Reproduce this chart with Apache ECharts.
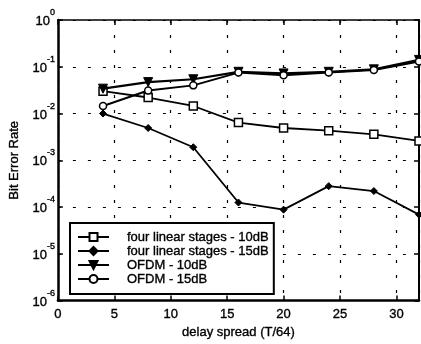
<!DOCTYPE html>
<html>
<head>
<meta charset="utf-8">
<script src="https://cdn.jsdelivr.net/npm/echarts@6/dist/echarts.min.js"></script>
<style>
  html, body { margin: 0; padding: 0; background: #fff; }
  #chart { width: 421px; height: 344px; }
</style>
</head>
<body>
<div id="chart"></div>
<script>
// delay spread in units of T/64
const delaySpread = [4, 8, 12, 16, 20, 24, 28, 32];

// bit error rates
const linear10dB = [0.030, 0.022, 0.0145, 0.0064, 0.0049, 0.0043, 0.0036, 0.0026];
const linear15dB = [0.0100, 0.0049, 0.0019, 0.000125, 0.000088, 0.00028, 0.00022, 0.000069];
const ofdm10dB = [0.034, 0.047, 0.054, 0.078, 0.072, 0.078, 0.088, 0.14];
const ofdm15dB = [0.0145, 0.031, 0.040, 0.075, 0.066, 0.075, 0.085, 0.13];

const seriesNames = [
  "four linear stages - 10dB",
  "four linear stages - 15dB",
  "OFDM - 10dB",
  "OFDM - 15dB",
];

const FONT = "'Liberation Sans', Arial, sans-serif";
const INK = "#000";

// scanned print looks heavier than the plain font, thicken strokes a bit
const heavy = { textBorderColor: INK, textBorderWidth: 0.35 };

const pairs = (ys) => delaySpread.map((x, i) => [x, ys[i]]);

const dotted = { color: INK, width: 1.2, type: [3, 12] };

const chart = echarts.init(document.getElementById("chart"), null, { renderer: "canvas" });

chart.setOption({
  animation: false,
  backgroundColor: "#fff",
  textStyle: { fontFamily: FONT, color: INK },
  grid: { left: 52, top: 20, right: 2, bottom: 37 },
  legend: {
    orient: "vertical",
    left: 70,
    top: 223,
    padding: [7, 5, 8, 7],
    itemWidth: 31,
    itemHeight: 10,
    itemGap: 0,
    borderColor: INK,
    borderWidth: 2,
    borderRadius: 0,
    backgroundColor: "#fff",
    textStyle: { fontFamily: FONT, fontSize: 13, color: INK, lineHeight: 14, padding: [0, 0, 0, 13], ...heavy },
    data: seriesNames,
  },
  xAxis: [
    {
      type: "value",
      min: 0,
      max: 32,
      interval: 5,
      name: "delay spread (T/64)",
      nameLocation: "middle",
      nameGap: 22,
      nameTextStyle: { fontFamily: FONT, fontSize: 13, color: INK, ...heavy },
      axisLine: { show: true, onZero: false, lineStyle: { color: INK, width: 2.5 } },
      axisTick: { show: true, inside: true, length: 5, lineStyle: { color: INK, width: 1.5 } },
      axisLabel: {
        margin: 7, fontFamily: FONT, fontSize: 13, color: INK, ...heavy,
        showMaxLabel: false,
        formatter: (v) => (v % 5 === 0 ? String(v) : ""),
      },
      splitLine: { show: true, lineStyle: dotted },
    },
    {
      type: "value",
      position: "top",
      min: 0,
      max: 32,
      interval: 5,
      axisLine: { show: true, onZero: false, lineStyle: { color: INK, width: 1.5 } },
      axisTick: { show: true, inside: true, length: 5, lineStyle: { color: INK, width: 1.5 } },
      axisLabel: { show: false },
      splitLine: { show: false },
    },
  ],
  yAxis: [
    {
      type: "log",
      logBase: 10,
      min: 1e-6,
      max: 1,
      interval: 1,
      name: "Bit Error Rate",
      nameLocation: "middle",
      nameGap: 31,
      nameTextStyle: { fontFamily: FONT, fontSize: 13, color: INK, ...heavy },
      axisLine: { show: true, onZero: false, lineStyle: { color: INK, width: 2.5 } },
      axisTick: { show: true, inside: true, length: 5, lineStyle: { color: INK, width: 1.5 } },
      minorTick: { show: false },
      axisLabel: {
        margin: 3,
        padding: [0, 0, 4, 0],
        formatter: (v) => "{b|10}{s|" + Math.round(Math.log10(v)) + "}",
        rich: {
          b: { fontFamily: FONT, fontSize: 13, color: INK, lineHeight: 20, verticalAlign: "bottom", ...heavy },
          s: { fontFamily: FONT, fontSize: 9, color: INK, verticalAlign: "top", ...heavy },
        },
      },
      splitLine: { show: true, lineStyle: dotted },
    },
    {
      type: "log",
      logBase: 10,
      position: "right",
      min: 1e-6,
      max: 1,
      interval: 1,
      axisLine: { show: true, onZero: false, lineStyle: { color: INK, width: 2 } },
      axisTick: { show: true, inside: true, length: 5, lineStyle: { color: INK, width: 1.5 } },
      axisLabel: { show: false },
      splitLine: { show: false },
    },
  ],
  series: [
    {
      name: seriesNames[0],
      type: "line",
      data: pairs(linear10dB),
      symbol: "rect",
      symbolSize: 8,
      itemStyle: { color: "#fff", borderColor: INK, borderWidth: 1.5 },
      lineStyle: { color: INK, width: 1.8 },
      z: 3,
    },
    {
      name: seriesNames[1],
      type: "line",
      data: pairs(linear15dB),
      symbol: "diamond",
      symbolSize: 7,
      itemStyle: { color: INK, borderColor: INK, borderWidth: 1 },
      lineStyle: { color: INK, width: 1.8 },
      z: 3,
    },
    {
      name: seriesNames[2],
      type: "line",
      data: pairs(ofdm10dB),
      symbol: "triangle",
      symbolRotate: 180,
      symbolSize: 9,
      itemStyle: { color: INK, borderColor: INK, borderWidth: 1 },
      lineStyle: { color: INK, width: 2.2 },
      z: 4,
    },
    {
      name: seriesNames[3],
      type: "line",
      data: pairs(ofdm15dB),
      symbol: "circle",
      symbolSize: 7,
      itemStyle: { color: "#fff", borderColor: INK, borderWidth: 1.5 },
      lineStyle: { color: INK, width: 2 },
      z: 4,
    },
  ],
});
</script>
</body>
</html>
